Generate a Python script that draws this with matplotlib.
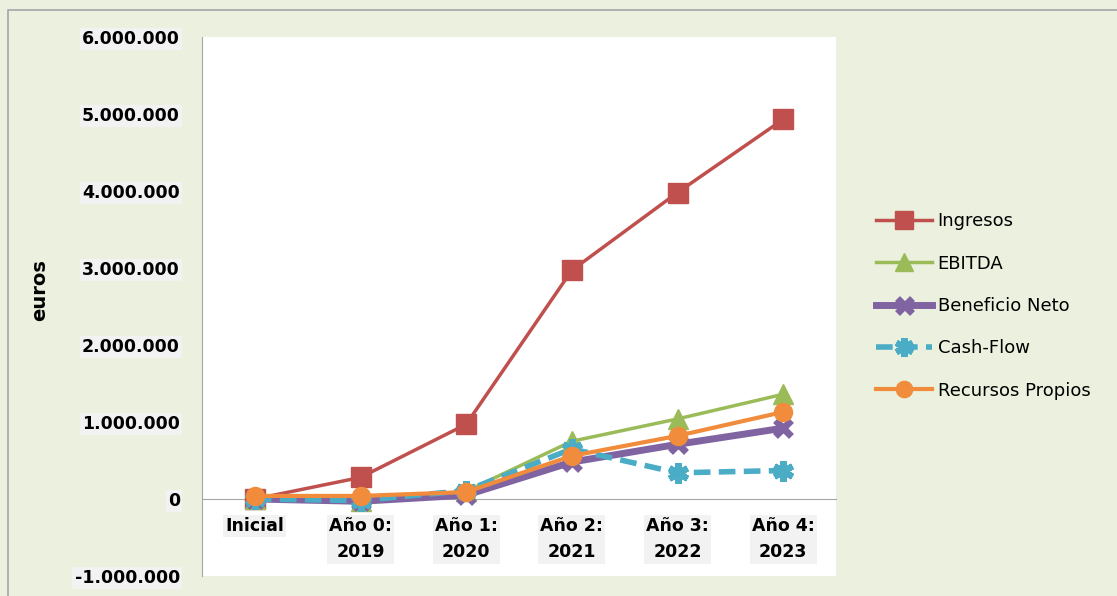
import numpy as np
import matplotlib.pyplot as plt
from matplotlib.patches import Rectangle
from matplotlib.ticker import FuncFormatter

# ---- datos ----
categorias = ['Inicial', 'Año 0:\n2019', 'Año 1:\n2020', 'Año 2:\n2021', 'Año 3:\n2022', 'Año 4:\n2023']
ingresos = [0, 280000, 970000, 2970000, 3980000, 4930000]
ebitda = [0, -20000, 100000, 750000, 1040000, 1360000]
beneficio = [0, -30000, 50000, 480000, 710000, 920000]
cash_flow = [0, -20000, 110000, 650000, 340000, 370000]
recursos = [40000, 40000, 90000, 560000, 820000, 1130000]

fondo = '#EBF1DE'

fig = plt.figure(figsize=(11.17, 5.96), dpi=100, facecolor=fondo)
fig.patches.append(Rectangle((8/1117, -0.1), 1.2, 1 - 10/596 + 0.1, transform=fig.transFigure,
                             fill=False, edgecolor='#A6A6A6', lw=1.2))

ax = fig.add_axes([202/1117, 1 - 576/596, 634/1117, 539/596])
ax.set_facecolor('white')
x = np.arange(len(categorias))

ax.plot(x, ingresos, color='#C0504D', lw=2.5, marker='s', ms=14, label='Ingresos', zorder=3)
ax.plot(x, ebitda, color='#9BBB59', lw=2.5, marker='^', ms=15, label='EBITDA', zorder=4)
ax.plot(x, beneficio, color='#8064A2', lw=5, marker='x', ms=12, mew=5, label='Beneficio Neto', zorder=5)
ax.plot(x, cash_flow, color='#4BACC6', lw=4, ls=(0, (3, 1.5)), marker=(6, 2, 0), ms=15, mew=4.5,
        label='Cash-Flow', zorder=6)
ax.plot(x, recursos, color='#F08C3C', lw=3, marker='o', ms=13, label='Recursos Propios', zorder=7)

ax.set_xlim(-0.5, len(categorias) - 0.5)
ax.set_ylim(-1000000, 6000000)
ax.set_yticks(np.arange(-1000000, 6000001, 1000000))
ax.yaxis.set_major_formatter(FuncFormatter(lambda v, p: f'{int(v):,}'.replace(',', '.')))
ax.set_xticks(x)
ax.set_xticklabels(categorias)

for s in ['top', 'right']:
    ax.spines[s].set_visible(False)
ax.spines['left'].set_color('#A6A6A6')
ax.spines['bottom'].set_color('#A6A6A6')
ax.spines['bottom'].set_position(('data', 0))
ax.tick_params(axis='y', length=0, pad=16)
ax.tick_params(axis='x', length=0, pad=13)

for lbl in ax.get_yticklabels() + ax.get_xticklabels():
    lbl.set_fontweight('bold')
    lbl.set_fontsize(12.5)
    lbl.set_linespacing(1.6)
    lbl.set_bbox(dict(facecolor='#F2F2F2', edgecolor='none', pad=1.5))

fig.text(40/1117, 1 - 290/596, 'euros', rotation=90, fontsize=14, fontweight='bold',
         ha='center', va='center')

fig.legend(loc='center left', bbox_to_anchor=(860/1117, 1 - 306/596), frameon=False,
           fontsize=13, handlelength=3.1, labelspacing=1.35, handletextpad=0.3, markerscale=0.9)

fig.savefig('out.png', dpi=100, facecolor=fondo)
